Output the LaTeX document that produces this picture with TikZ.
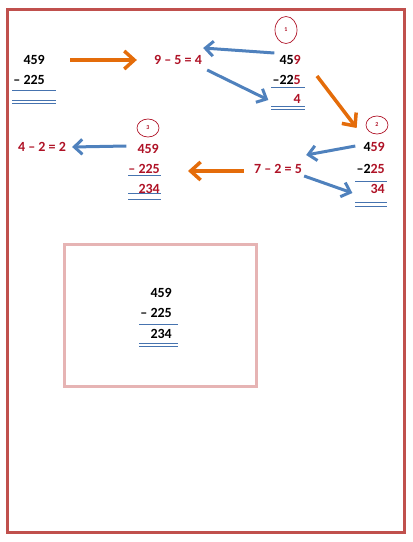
\documentclass[tikz,border=0pt]{standalone}
\usepackage{fontspec}
\setmainfont{Carlito}
\usetikzlibrary{arrows.meta,shapes.geometric}

\definecolor{framered}{RGB}{192,80,77}
\definecolor{boxpink}{RGB}{230,180,180}
\definecolor{digitred}{RGB}{175,18,38}
\definecolor{arroworange}{RGB}{228,108,10}
\definecolor{arrowblue}{RGB}{79,129,189}
\definecolor{lineblue}{RGB}{70,115,175}

\tikzset{
    digits/.style={inner sep=0pt, anchor=east, font=\fontsize{14}{16}\selectfont\bfseries},
    sum/.style={inner sep=0pt, text=digitred, font=\fontsize{14}{16}\selectfont\bfseries},
    orangearrow/.style={draw=arroworange, line width=3.5pt, -{Straight Barb[length=10pt,width=18pt]}},
    bluearrow/.style={draw=arrowblue, line width=3pt, -{Straight Barb[length=8pt,width=15pt]}},
    stepmark/.style={ellipse, draw=digitred, line width=0.7pt, inner sep=0pt, text=digitred, font=\fontsize{6}{7}\selectfont\bfseries},
    uline/.style={draw=lineblue, line width=0.9pt}
}

\begin{document}
\begin{tikzpicture}[x=1pt,y=-1pt]
    \useasboundingbox (0,0) rectangle (413,542);

    % Frames
    \draw[framered, line width=3pt] (7,9) rectangle (404,532); % outer frame
    \draw[boxpink, line width=3pt] (64,244) rectangle (256,386); % result box

    % Starting sum, top left
    \node[digits] (s0a) at (45,60) {459};
    \node[digits] (s0b) at (45,80) {– 225};
    \draw[uline] (12,90) -- (56,90);
    \draw[uline] (12,100) -- (56,100);
    \draw[uline] (12,103) -- (56,103);

    % Step 1: units
    \node[sum] (eq1) at (178,60) {9 – 5 = 4};
    \node[stepmark, minimum width=22pt, minimum height=27pt] (c1) at (286,30) {1};
    \node[digits] (s1a) at (301,60) {45\textcolor{digitred}{9}};
    \node[digits] (s1b) at (301,80) {–22\textcolor{digitred}{5}};
    \node[digits, text=digitred] (s1c) at (301,99) {4};
    \draw[uline] (271,87) -- (305,87);
    \draw[uline] (271,106) -- (305,106);
    \draw[uline] (271,109) -- (305,109);

    % Step 2: tens
    \node[stepmark, minimum width=22pt, minimum height=18pt] (c2) at (377,125) {2};
    \node[digits] (s2a) at (385,147) {4\textcolor{digitred}{59}};
    \node[digits] (s2b) at (385,169) {–2\textcolor{digitred}{25}};
    \node[digits, text=digitred] (s2c) at (385,189) {34};
    \node[sum] (eq2) at (278,169) {7 – 2 = 5};
    \draw[uline] (355,181) -- (387,181);
    \draw[uline] (355,202) -- (387,202);
    \draw[uline] (355,206) -- (387,206);

    % Step 3: hundreds
    \node[stepmark, minimum width=22pt, minimum height=18pt] (c3) at (148,128) {3};
    \node[digits, text=digitred] (s3a) at (159,149) {459};
    \node[digits, text=digitred] (s3b) at (160,169) {– 225};
    \node[digits, text=digitred] (s3c) at (160,189) {234};
    \node[sum] (eq3) at (42,147) {4 – 2 = 2};
    \draw[uline] (128,175) -- (161,175);
    \draw[uline] (128,193) -- (161,193);
    \draw[uline] (128,199) -- (161,199);

    % Result
    \node[digits] (r1) at (172,293) {459};
    \node[digits] (r2) at (172,313) {– 225};
    \node[digits] (r3) at (172,334) {234};
    \draw[uline] (139,324) -- (178,324);
    \draw[uline] (139,343) -- (178,343);
    \draw[uline] (139,346) -- (178,346);

    % Arrows
    \draw[orangearrow] ([xshift=25pt]s0a.east) -- ([xshift=-17pt]eq1.west);
    \draw[bluearrow] ([xshift=-5pt,yshift=7pt]s1a.west) -- ([xshift=1pt,yshift=12pt]eq1.east);
    \draw[bluearrow] ([xshift=5pt,yshift=-10pt]eq1.east) -- ([xshift=-4pt,yshift=-20pt]s1b.west);
    \draw[orangearrow] ([xshift=16pt,yshift=4pt]s1b.east) -- ([xshift=-9pt,yshift=-3pt]c2.west);
    \draw[bluearrow] ([xshift=-8pt,yshift=1pt]s2a.west) -- ([xshift=4pt,yshift=14pt]eq2.east);
    \draw[bluearrow] ([xshift=2pt,yshift=-7pt]eq2.east) -- ([xshift=-18pt,yshift=-4pt]s2c.west);
    \draw[orangearrow] ([xshift=-10pt,yshift=-2pt]eq2.west) -- ([xshift=28pt,yshift=-2pt]s3b.east);
    \draw[bluearrow] ([xshift=-11pt,yshift=3pt]s3a.west) -- ([xshift=6pt]eq3.east);
\end{tikzpicture}
\end{document}
